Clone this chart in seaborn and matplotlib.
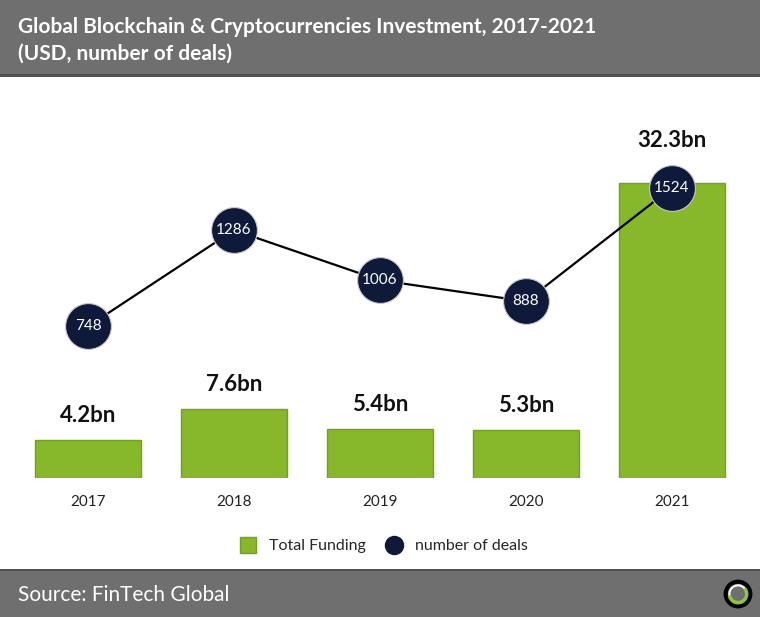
# Global Blockchain & Cryptocurrencies Investment, 2017-2021

import numpy as np
import pandas as pd
import matplotlib
matplotlib.use('Agg')
import matplotlib.pyplot as plt
from matplotlib.patches import Rectangle, Circle, Arc
from matplotlib.lines import Line2D
import seaborn as sns

# Данные
years = ['2017', '2018', '2019', '2020', '2021']
funding_bn = [4.2, 7.6, 5.4, 5.3, 32.3]
deals = [748, 1286, 1006, 888, 1524]
funding_labels = ['4.2bn', '7.6bn', '5.4bn', '5.3bn', '32.3bn']

green = '#87b72a'
green_edge = '#74a01f'
navy = '#0f1a3b'
band = '#6f6f6f'

sns.set_theme(style='white')
plt.rcParams['font.family'] = ['Lato', 'DejaVu Sans']

fig = plt.figure(figsize=(7.6, 6.17), dpi=100)
H = 617.0

# Серые полосы сверху и снизу (zorder ниже осей)
for y0, h, c in [(1 - 74 / H, 74 / H, band), (1 - 77 / H, 3 / H, '#505050'),
                 (0, 46 / H, band), (46 / H, 2 / H, '#505050')]:
    fig.patches.append(Rectangle((0, y0), 1, h, transform=fig.transFigure,
                                 facecolor=c, edgecolor='none', zorder=-5))

fig.text(18 / 760, 1 - 27 / H, 'Global Blockchain & Cryptocurrencies Investment, 2017-2021',
         color='white', fontsize=15, fontweight='bold', va='center', ha='left')
fig.text(18 / 760, 1 - 54 / H, '(USD, number of deals)',
         color='white', fontsize=15, fontweight='bold', va='center', ha='left')
fig.text(18 / 760, 1 - 595 / H, 'Source: FinTech Global',
         color='white', fontsize=15, va='center', ha='left')

# Логотип
lx, ly = 738 / 760, 1 - 594 / H
logo_ax = fig.add_axes([lx - 15 / 760, ly - 15 / H, 30 / 760, 30 / H])
logo_ax.set_xlim(-1, 1)
logo_ax.set_ylim(-1, 1)
logo_ax.set_aspect('equal')
logo_ax.axis('off')
logo_ax.add_patch(Circle((0, 0), 0.82, facecolor='none', edgecolor='black', linewidth=3))
logo_ax.add_patch(Arc((0, 0), 1.15, 1.15, theta1=190, theta2=40, edgecolor='#8cc63f', linewidth=2.5))
logo_ax.add_patch(Arc((0, 0), 1.15, 1.15, theta1=40, theta2=190, edgecolor='white', linewidth=1.5))

# Основной график
ax = fig.add_axes([15 / 760, 1 - 478 / H, 730 / 760, 388 / H])
df = pd.DataFrame({'year': years, 'funding': funding_bn, 'deals': deals})
sns.barplot(data=df, x='year', y='funding', color=green, width=0.72,
            edgecolor=green_edge, linewidth=1, saturation=1, ax=ax)
ax.set_ylim(0, 42.5)
ax.set_xlim(-0.5, 4.5)
for i, (v, lab) in enumerate(zip(funding_bn, funding_labels)):
    # подпись последнего столбца поднята над кружком
    off = 23 if i == len(funding_bn) - 1 else 10
    ax.annotate(lab, (i, v), xytext=(0, off), textcoords='offset points',
                ha='center', va='bottom', fontsize=16, fontweight='bold', color='#111111')
ax.set_xlabel('')
ax.set_ylabel('')
ax.set_yticks([])
ax.tick_params(axis='x', length=0, labelsize=11, pad=12, colors='#222222')
for s in ax.spines.values():
    s.set_visible(False)

ax2 = ax.twinx()
sns.lineplot(x=np.arange(len(deals)), y=deals, color='black', linewidth=1.6,
             marker='o', markersize=33, markerfacecolor=navy,
             markeredgecolor='#c8c8c8', markeredgewidth=0.8, ax=ax2)
ax2.set_ylim(-100, 2070)
ax2.set_xlim(-0.5, 4.5)
ax2.set_yticks([])
for i, d in enumerate(deals):
    ax2.text(i, d, str(d), color='white', fontsize=11, ha='center', va='center')
for s in ax2.spines.values():
    s.set_visible(False)

handles = [Line2D([0], [0], marker='s', linestyle='none', markersize=11,
                  markerfacecolor=green, markeredgecolor=green_edge),
           Line2D([0], [0], marker='o', linestyle='none', markersize=13,
                  markerfacecolor=navy, markeredgecolor=navy)]
fig.legend(handles, ['Total Funding', 'number of deals'], loc='center',
           bbox_to_anchor=(0.5, 1 - 546 / H), ncol=2, frameon=False,
           fontsize=11.5, handletextpad=0.3, columnspacing=0.8)

fig.savefig('out.png', dpi=100)
